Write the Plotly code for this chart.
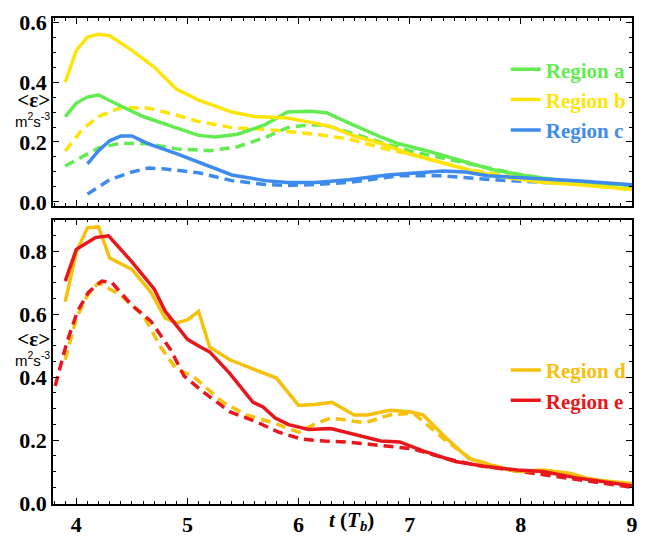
import plotly.graph_objects as go
from plotly.subplots import make_subplots

# top panel: regions a, b, c (solid and dashed)
a_x = [3.9, 4.0, 4.1, 4.2, 4.4, 4.6, 4.9, 5.1, 5.25, 5.45, 5.7, 5.9, 6.1, 6.25, 6.45, 6.75, 6.9, 7.15, 7.45, 7.75, 8.05, 8.35, 8.7, 9.0]
a_y = [0.285, 0.33, 0.35, 0.357, 0.32, 0.285, 0.247, 0.222, 0.217, 0.226, 0.258, 0.30, 0.303, 0.298, 0.264, 0.215, 0.194, 0.171, 0.139, 0.107, 0.087, 0.071, 0.062, 0.055]
a_dash_x = [3.9, 4.1, 4.2, 4.4, 4.65, 4.9, 5.2, 5.45, 5.7, 5.9, 6.1, 6.25, 6.45, 6.75, 7.0, 7.5, 8.0, 8.5, 9.0]
a_dash_y = [0.12, 0.16, 0.18, 0.196, 0.194, 0.177, 0.171, 0.184, 0.215, 0.248, 0.258, 0.255, 0.232, 0.2, 0.17, 0.13, 0.09, 0.065, 0.05]

b_x = [3.9, 4.0, 4.1, 4.2, 4.3, 4.5, 4.7, 4.9, 5.1, 5.4, 5.6, 5.9, 6.15, 6.3, 6.5, 6.75, 7.0, 7.3, 7.6, 7.9, 8.2, 8.5, 8.8, 9.0]
b_y = [0.40, 0.506, 0.55, 0.56, 0.555, 0.506, 0.45, 0.377, 0.34, 0.30, 0.285, 0.28, 0.263, 0.25, 0.22, 0.194, 0.16, 0.13, 0.10, 0.08, 0.065, 0.058, 0.048, 0.042]
b_dash_x = [3.9, 4.05, 4.2, 4.4, 4.65, 4.9, 5.1, 5.4, 5.7, 5.9, 6.15, 6.45, 6.75, 7.05, 7.5, 8.0, 8.5, 9.0]
b_dash_y = [0.17, 0.24, 0.285, 0.315, 0.313, 0.29, 0.268, 0.248, 0.242, 0.236, 0.226, 0.21, 0.18, 0.155, 0.11, 0.08, 0.06, 0.04]

c_x = [4.1, 4.2, 4.3, 4.4, 4.5, 4.65, 4.9, 5.1, 5.4, 5.7, 5.9, 6.15, 6.45, 6.8, 7.1, 7.3, 7.5, 7.7, 8.05, 8.5, 9.0]
c_y = [0.127, 0.171, 0.204, 0.22, 0.22, 0.194, 0.161, 0.132, 0.09, 0.071, 0.065, 0.065, 0.074, 0.09, 0.097, 0.103, 0.10, 0.087, 0.08, 0.071, 0.057]
c_dash_x = [4.1, 4.3, 4.5, 4.65, 4.8, 5.1, 5.4, 5.7, 5.9, 6.15, 6.45, 6.9, 7.3, 7.75, 8.2, 9.0]
c_dash_y = [0.026, 0.074, 0.10, 0.113, 0.11, 0.097, 0.071, 0.058, 0.055, 0.058, 0.065, 0.087, 0.087, 0.074, 0.065, 0.055]

# bottom panel: regions d, e
d_x = [3.9, 4.0, 4.1, 4.2, 4.3, 4.5, 4.67, 4.8, 4.9, 5.0, 5.1, 5.2, 5.38, 5.6, 5.8, 6.0, 6.14, 6.3, 6.5, 6.62, 6.82, 7.0, 7.12, 7.32, 7.53, 7.76, 7.97, 8.2, 8.44, 8.64, 9.0]
d_y = [0.64, 0.797, 0.874, 0.877, 0.778, 0.742, 0.67, 0.587, 0.572, 0.582, 0.609, 0.495, 0.455, 0.425, 0.397, 0.31, 0.313, 0.32, 0.28, 0.28, 0.295, 0.29, 0.28, 0.209, 0.142, 0.117, 0.10, 0.105, 0.095, 0.074, 0.062]
d_dash_x = [3.9, 4.0, 4.1, 4.2, 4.3, 4.4, 4.6, 4.76, 4.9, 5.05, 5.15, 5.32, 5.53, 5.77, 6.0, 6.14, 6.29, 6.6, 6.82, 7.03, 7.32, 7.55, 7.8, 8.0, 8.5, 9.0]
d_dash_y = [0.455, 0.587, 0.66, 0.70, 0.68, 0.66, 0.597, 0.495, 0.425, 0.403, 0.372, 0.32, 0.28, 0.255, 0.225, 0.25, 0.27, 0.255, 0.28, 0.286, 0.2, 0.14, 0.115, 0.1, 0.085, 0.055]

e_x = [3.9, 4.0, 4.17, 4.29, 4.5, 4.7, 4.8, 5.0, 5.12, 5.2, 5.38, 5.59, 5.68, 5.79, 5.91, 6.09, 6.29, 6.59, 6.74, 6.91, 7.12, 7.41, 7.67, 7.97, 8.2, 8.5, 9.0]
e_y = [0.705, 0.806, 0.843, 0.849, 0.766, 0.68, 0.609, 0.52, 0.495, 0.48, 0.412, 0.32, 0.305, 0.27, 0.249, 0.234, 0.237, 0.209, 0.197, 0.194, 0.166, 0.132, 0.117, 0.105, 0.10, 0.08, 0.055]
e_dash_x = [3.81, 3.91, 4.01, 4.11, 4.23, 4.32, 4.5, 4.67, 4.85, 4.97, 5.15, 5.38, 5.62, 5.82, 6.03, 6.23, 6.44, 6.74, 7.03, 7.32, 7.6, 8.0, 8.5, 9.0]
e_dash_y = [0.372, 0.505, 0.609, 0.67, 0.705, 0.70, 0.628, 0.578, 0.486, 0.403, 0.351, 0.29, 0.258, 0.225, 0.203, 0.197, 0.194, 0.182, 0.172, 0.142, 0.12, 0.1, 0.075, 0.05]

colors = {'a': '#62EC50', 'b': '#FFE40A', 'c': '#3D8BEE', 'd': '#F6C00C', 'e': '#E8171C'}
serif = 'Liberation Serif'
dash = '10px,6px'

fig = make_subplots(rows=2, cols=1, shared_xaxes=True)

top = [('a', a_x, a_y, a_dash_x, a_dash_y),
       ('b', b_x, b_y, b_dash_x, b_dash_y),
       ('c', c_x, c_y, c_dash_x, c_dash_y)]
bottom = [('d', d_x, d_y, d_dash_x, d_dash_y),
          ('e', e_x, e_y, e_dash_x, e_dash_y)]

for row, group, leg in [(1, top, 'legend'), (2, bottom, 'legend2')]:
    for key, x, y, xd, yd in group:
        col = colors[key]
        fig.add_trace(go.Scatter(x=xd, y=yd, mode='lines', showlegend=False,
                                 line=dict(color=col, width=3.5, dash=dash)), row=row, col=1)
    for key, x, y, xd, yd in group:
        col = colors[key]
        fig.add_trace(go.Scatter(x=x, y=y, mode='lines', legend=leg,
                                 name="<span style='color:%s'>Region %s</span>" % (col, key),
                                 line=dict(color=col, width=3.5)), row=row, col=1)

axis_style = dict(showline=True, linecolor='black', linewidth=1.5, mirror='allticks',
                  ticks='inside', ticklen=6, tickwidth=1, tickcolor='black',
                  showgrid=False, zeroline=False, ticklabeloverflow='allow',
                  tickfont=dict(family=serif, size=22, color='black', weight='bold'))

fig.update_xaxes(**axis_style, range=[3.79, 9.0], dtick=1, tick0=0, ticklabelstandoff=0,
                 minor=dict(ticks='inside', ticklen=3, dtick=0.1, tick0=0, tickcolor='black'))
fig.update_xaxes(showticklabels=False, row=1, col=1)
fig.update_yaxes(**axis_style, tickformat='.1f', dtick=0.2, tick0=0,
                 minor=dict(ticks='inside', ticklen=3, dtick=0.05, tick0=0, tickcolor='black'))
fig.update_yaxes(range=[-0.014, 0.614], row=1, col=1)
fig.update_yaxes(range=[-0.003, 0.90], row=2, col=1)

# page body has an 8px margin; keep the figure small enough to avoid scrollbars
fig.update_layout(
    width=632, height=531,
    margin=dict(l=45, r=2, t=2, b=28),
    plot_bgcolor='white', paper_bgcolor='white',
    yaxis=dict(domain=[0.613, 1.0]),
    yaxis2=dict(domain=[0.0, 0.585]),
    legend=dict(x=0.782, xanchor='left', y=0.832, yanchor='middle', bgcolor='rgba(0,0,0,0)',
                font=dict(family=serif, size=21, weight='bold'), tracegroupgap=0),
    legend2=dict(x=0.782, xanchor='left', y=0.244, yanchor='middle', bgcolor='rgba(0,0,0,0)',
                 font=dict(family=serif, size=21, weight='bold'), tracegroupgap=0),
)

# y titles in the left margin (symbol over units), x title between ticks 6 and 7
ytitle = ("<span style='font-family:Liberation Serif;font-size:21px;font-weight:bold'>&lt;ε&gt;</span>"
          "<br>m<sup>2</sup>s<sup>-3</sup>")
for yc in [0.812, 0.321]:
    fig.add_annotation(text=ytitle, xref='paper', yref='paper', x=0, y=yc,
                       xanchor='right', yanchor='middle', align='right', showarrow=False, xshift=-1,
                       font=dict(family='Liberation Sans', size=15, color='black'))

fig.add_annotation(text='<b><i>t</i> (<i>T<sub>b</sub></i>)</b>', xref='paper', yref='paper',
                   x=0.516, y=-0.036, xanchor='center', yanchor='middle', showarrow=False,
                   font=dict(family=serif, size=21, color='black'))

fig.write_html('out.html')
